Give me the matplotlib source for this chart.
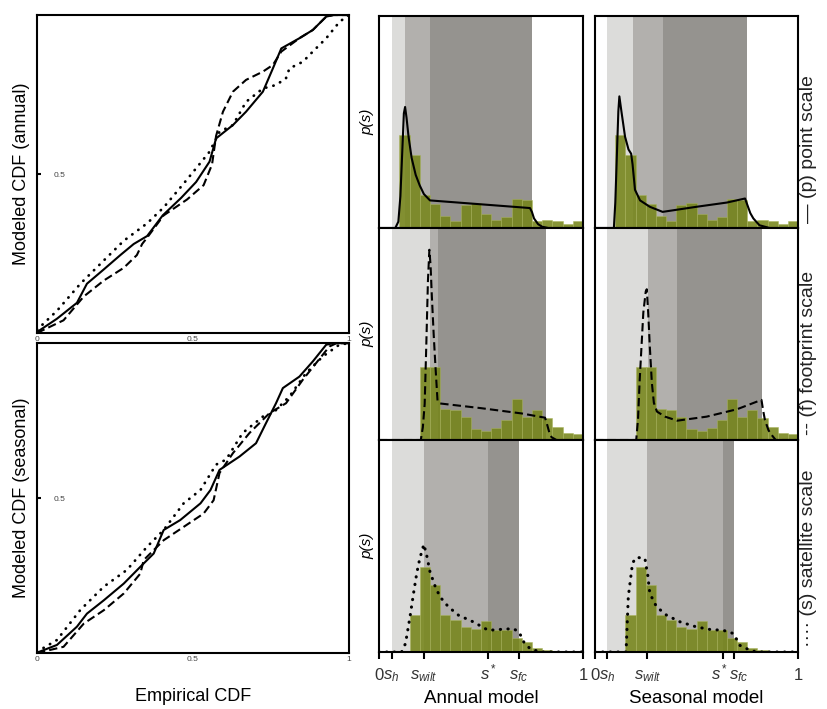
import numpy as np
import matplotlib
matplotlib.use('Agg')
import matplotlib.pyplot as plt
from matplotlib.transforms import ScaledTranslation

plt.rcParams['font.family'] = ['Liberation Sans', 'DejaVu Sans']
plt.rcParams['mathtext.fontset'] = 'custom'
plt.rcParams['mathtext.it'] = 'Liberation Sans:italic'
plt.rcParams['mathtext.rm'] = 'Liberation Sans'

# ---- CDF comparison (empirical vs modeled) ----
ann_solid_x = [0, 0.064, 0.128, 0.16, 0.214, 0.267, 0.31, 0.353, 0.403, 0.462, 0.51, 0.553, 0.574, 0.628, 0.67, 0.724, 0.756, 0.783, 0.841, 0.884, 0.927, 0.95, 1]
ann_solid_y = [0.003, 0.045, 0.095, 0.155, 0.2, 0.245, 0.28, 0.305, 0.37, 0.425, 0.475, 0.539, 0.612, 0.654, 0.696, 0.759, 0.832, 0.895, 0.927, 0.953, 0.995, 1, 1]
ann_dash_x = [0, 0.021, 0.085, 0.15, 0.214, 0.278, 0.32, 0.337, 0.353, 0.406, 0.481, 0.534, 0.561, 0.574, 0.596, 0.628, 0.67, 0.724, 0.756, 0.783, 0.841, 0.884, 0.927, 0.95, 1]
ann_dash_y = [0, 0.01, 0.04, 0.115, 0.165, 0.205, 0.245, 0.28, 0.3, 0.37, 0.42, 0.465, 0.53, 0.62, 0.696, 0.759, 0.796, 0.822, 0.843, 0.885, 0.927, 0.953, 0.995, 1, 1]
ann_dot_x = [0, 0.064, 0.139, 0.214, 0.278, 0.353, 0.406, 0.47, 0.51, 0.553, 0.585, 0.628, 0.67, 0.724, 0.766, 0.798, 0.809, 0.852, 0.884, 0.927, 0.97, 1]
ann_dot_y = [0.01, 0.07, 0.155, 0.228, 0.29, 0.345, 0.395, 0.47, 0.518, 0.57, 0.633, 0.654, 0.727, 0.769, 0.78, 0.801, 0.832, 0.853, 0.885, 0.927, 0.979, 1]

sea_solid_x = [0, 0.064, 0.128, 0.16, 0.214, 0.278, 0.331, 0.374, 0.406, 0.459, 0.524, 0.556, 0.585, 0.649, 0.702, 0.734, 0.766, 0.788, 0.841, 0.884, 0.927, 0.95, 1]
sea_solid_y = [0.001, 0.026, 0.085, 0.127, 0.17, 0.224, 0.278, 0.321, 0.397, 0.429, 0.483, 0.526, 0.591, 0.634, 0.677, 0.742, 0.806, 0.855, 0.892, 0.941, 0.995, 1, 1]
sea_dash_x = [0, 0.085, 0.15, 0.214, 0.278, 0.331, 0.342, 0.406, 0.47, 0.534, 0.566, 0.585, 0.628, 0.681, 0.745, 0.798, 0.852, 0.894, 0.937, 0.96, 1]
sea_dash_y = [0, 0.02, 0.095, 0.138, 0.192, 0.256, 0.3, 0.364, 0.407, 0.45, 0.493, 0.581, 0.645, 0.71, 0.774, 0.806, 0.882, 0.935, 0.989, 1, 1]
sea_dot_x = [0, 0.064, 0.139, 0.214, 0.288, 0.353, 0.406, 0.47, 0.524, 0.574, 0.606, 0.659, 0.724, 0.756, 0.809, 0.862, 0.916, 0.969, 1]
sea_dot_y = [0.004, 0.042, 0.139, 0.214, 0.268, 0.343, 0.397, 0.483, 0.526, 0.608, 0.624, 0.71, 0.763, 0.774, 0.828, 0.903, 0.957, 0.995, 1]

# ---- soil moisture pdfs ----
bin_w = 0.05
hist_start = [0.1, 0.2, 0.15]
hist_p = [0.436, 0.343, 0.157, 0.115, 0.055, 0.033, 0.107, 0.12, 0.065, 0.036, 0.05, 0.135, 0.134, 0.031, 0.039, 0.035, 0.017, 0.035]
hist_f = [0.345, 0.345, 0.146, 0.142, 0.11, 0.052, 0.042, 0.058, 0.094, 0.192, 0.11, 0.142, 0.102, 0.06, 0.035, 0.028]
hist_s = [0.173, 0.398, 0.315, 0.173, 0.15, 0.12, 0.11, 0.146, 0.102, 0.102, 0.065, 0.045, 0.02, 0.008]

# thresholds (s_h, s_wilt, s*, s_fc) per row
thr_annual = [[0.062, 0.13, 0.25, 0.75], [0.062, 0.25, 0.29, 0.82], [0.062, 0.22, 0.536, 0.686]]
thr_seasonal = [[0.061, 0.187, 0.333, 0.747], [0.061, 0.263, 0.405, 0.824], [0.058, 0.258, 0.629, 0.685]]

ann_p_s = [0, 0.08, 0.095, 0.105, 0.115, 0.122, 0.128, 0.135, 0.145, 0.16, 0.18, 0.2, 0.22, 0.25, 0.4, 0.55, 0.7, 0.74, 0.75, 0.76, 0.78, 0.8, 0.83, 1]
ann_p_p = [0, 0, 0.03, 0.15, 0.38, 0.54, 0.57, 0.52, 0.43, 0.33, 0.25, 0.2, 0.16, 0.13, 0.119, 0.108, 0.097, 0.094, 0.075, 0.045, 0.018, 0.006, 0, 0]
sea_p_s = [0, 0.093, 0.1, 0.108, 0.115, 0.12, 0.13, 0.148, 0.165, 0.178, 0.185, 0.197, 0.222, 0.27, 0.333, 0.5, 0.65, 0.739, 0.75, 0.765, 0.78, 0.81, 0.86, 1]
sea_p_p = [0, 0, 0.12, 0.35, 0.55, 0.62, 0.55, 0.43, 0.37, 0.35, 0.3, 0.18, 0.13, 0.1, 0.076, 0.1, 0.12, 0.139, 0.11, 0.07, 0.045, 0.013, 0, 0]
ann_f_s = [0, 0.205, 0.215, 0.224, 0.232, 0.24, 0.247, 0.253, 0.259, 0.268, 0.276, 0.287, 0.3, 0.5, 0.7, 0.814, 0.825, 0.835, 0.846, 0.87, 1]
ann_f_p = [0, 0, 0.06, 0.17, 0.45, 0.75, 0.896, 0.82, 0.68, 0.5, 0.36, 0.185, 0.172, 0.15, 0.125, 0.105, 0.07, 0.035, 0.013, 0, 0]
sea_f_s = [0, 0.203, 0.212, 0.22, 0.238, 0.25, 0.255, 0.262, 0.27, 0.28, 0.29, 0.305, 0.345, 0.405, 0.55, 0.7, 0.82, 0.828, 0.837, 0.855, 0.87, 0.89, 1]
sea_f_p = [0, 0, 0.1, 0.28, 0.6, 0.7, 0.71, 0.6, 0.44, 0.27, 0.175, 0.134, 0.11, 0.091, 0.11, 0.145, 0.189, 0.14, 0.094, 0.045, 0.024, 0, 0]
ann_s_s = [0, 0.111, 0.13, 0.152, 0.17, 0.185, 0.2, 0.22, 0.235, 0.25, 0.275, 0.299, 0.34, 0.39, 0.462, 0.536, 0.59, 0.658, 0.686, 0.71, 0.74, 0.79, 1]
ann_s_p = [0, 0, 0.04, 0.165, 0.28, 0.37, 0.44, 0.507, 0.45, 0.378, 0.31, 0.26, 0.213, 0.173, 0.142, 0.102, 0.106, 0.11, 0.095, 0.047, 0.016, 0, 0]
sea_s_s = [0, 0.153, 0.164, 0.185, 0.205, 0.246, 0.26, 0.27, 0.303, 0.353, 0.419, 0.5, 0.567, 0.632, 0.682, 0.714, 0.764, 0.797, 1]
sea_s_p = [0, 0, 0.26, 0.42, 0.446, 0.44, 0.36, 0.276, 0.213, 0.173, 0.142, 0.118, 0.106, 0.102, 0.087, 0.031, 0.008, 0, 0]

tick_names = ['0', '$s_h$', '$s_{wilt}$', '$s^*$', '$s_{fc}$', '1']
scale_labels = ['— (p) point scale', '-- (f) footprint scale', '···· (s) satellite scale']

c_light = '#dcdcda'
c_mid = '#b2b0ad'
c_dark = '#95938f'
c_bar = '#76851a'

fig = plt.figure(figsize=(8.28, 7.09), dpi=100)

def cdf_axes(rect, curves, ylabel, show_xlabel):
    ax = fig.add_axes(rect)
    styles = [dict(ls='-', lw=1.5), dict(ls=(0, (4, 2)), lw=1.5),
              dict(ls=(0, (0.1, 2.6)), lw=2, dash_capstyle='round')]
    for (x, y), st in zip(curves, styles):
        ax.plot(x, y, color='black', **st)
    ax.set_xlim(0, 1)
    ax.set_ylim(0, 1)
    ax.set_xticks([0, 0.5, 1])
    ax.set_xticklabels(['0', '0.5', '1'])
    ax.set_yticks([0.5])
    ax.set_yticklabels(['0.5'])
    ax.tick_params(axis='x', length=0, pad=2, labelsize=6, labelcolor='#444444')
    ax.tick_params(axis='y', direction='in', length=3, width=1.5, pad=-12, labelsize=6, labelcolor='#444444')
    for lab in ax.get_yticklabels():
        lab.set_ha('left')
    for sp in ax.spines.values():
        sp.set_linewidth(1.5)
    ax.set_ylabel(ylabel, fontsize=13, labelpad=5)
    if show_xlabel:
        ax.set_xlabel('Empirical CDF', fontsize=13, labelpad=18)
    return ax

cdf_axes([0.0447, 0.5303, 0.3768, 0.4485],
         [(ann_solid_x, ann_solid_y), (ann_dash_x, ann_dash_y), (ann_dot_x, ann_dot_y)],
         'Modeled CDF (annual)', False)
cdf_axes([0.0447, 0.079, 0.3768, 0.437],
         [(sea_solid_x, sea_solid_y), (sea_dash_x, sea_dash_y), (sea_dot_x, sea_dot_y)],
         'Modeled CDF (seasonal)', True)

hists = [hist_p, hist_f, hist_s]
lines_ann = [(ann_p_s, ann_p_p), (ann_f_s, ann_f_p), (ann_s_s, ann_s_p)]
lines_sea = [(sea_p_s, sea_p_p), (sea_f_s, sea_f_p), (sea_s_s, sea_s_p)]
line_styles = [dict(ls='-', lw=1.5), dict(ls=(0, (4, 2)), lw=1.5),
               dict(ls=(0, (0.1, 2.4)), lw=2.2, dash_capstyle='round')]
row_bottoms = [0.6784, 0.3794, 0.0804]
row_h = 0.2995
cols = [(0.4577, 0.2464, thr_annual, lines_ann, 'Annual model'),
        (0.7186, 0.2452, thr_seasonal, lines_sea, 'Seasonal model')]

for ci, (left, width, thr, lines, xlab) in enumerate(cols):
    for r in range(3):
        ax = fig.add_axes([left, row_bottoms[r], width, row_h])
        sh, sw, ss, sf = thr[r]
        ax.axvspan(sh, sw, color=c_light, lw=0, zorder=0)
        ax.axvspan(sw, ss, color=c_mid, lw=0, zorder=0)
        ax.axvspan(ss, sf, color=c_dark, lw=0, zorder=0)
        h = hists[r]
        edges = hist_start[r] + bin_w * np.arange(len(h))
        ax.bar(edges, h, width=bin_w, align='edge', color=c_bar, alpha=0.88,
               edgecolor='#a9b45c', linewidth=0.4, zorder=1)
        s, p = lines[r]
        ax.plot(s, p, color='black', zorder=2, **line_styles[r])
        ax.set_xlim(0, 1)
        ax.set_ylim(0, 1)
        ax.set_yticks([])
        for sp in ax.spines.values():
            sp.set_linewidth(1.5)
        if ci == 0:
            ax.set_ylabel('p(s)', fontsize=11, style='italic', labelpad=3)
        else:
            ax.text(1.05, 0.025, scale_labels[r], transform=ax.transAxes, rotation=90,
                    ha='center', va='bottom', fontsize=14, color='#222222')
        if r == 2:
            ax.set_xticks([0, sh, sw, ss, sf, 1])
            ax.set_xticklabels(tick_names)
            ax.tick_params(axis='x', length=5, width=1.5, labelsize=12, pad=15, labelcolor='#333333')
            labs = ax.get_xticklabels()
            for lab in labs:
                lab.set_va('baseline')
            if ci == 1:
                labs[3].set_transform(labs[3].get_transform() + ScaledTranslation(-2 / 72, 0, fig.dpi_scale_trans))
                labs[4].set_transform(labs[4].get_transform() + ScaledTranslation(3 / 72, 0, fig.dpi_scale_trans))
            ax.set_xlabel(xlab, fontsize=13.5, labelpad=4)
        else:
            ax.set_xticks([])

fig.savefig('out.png', dpi=100)
